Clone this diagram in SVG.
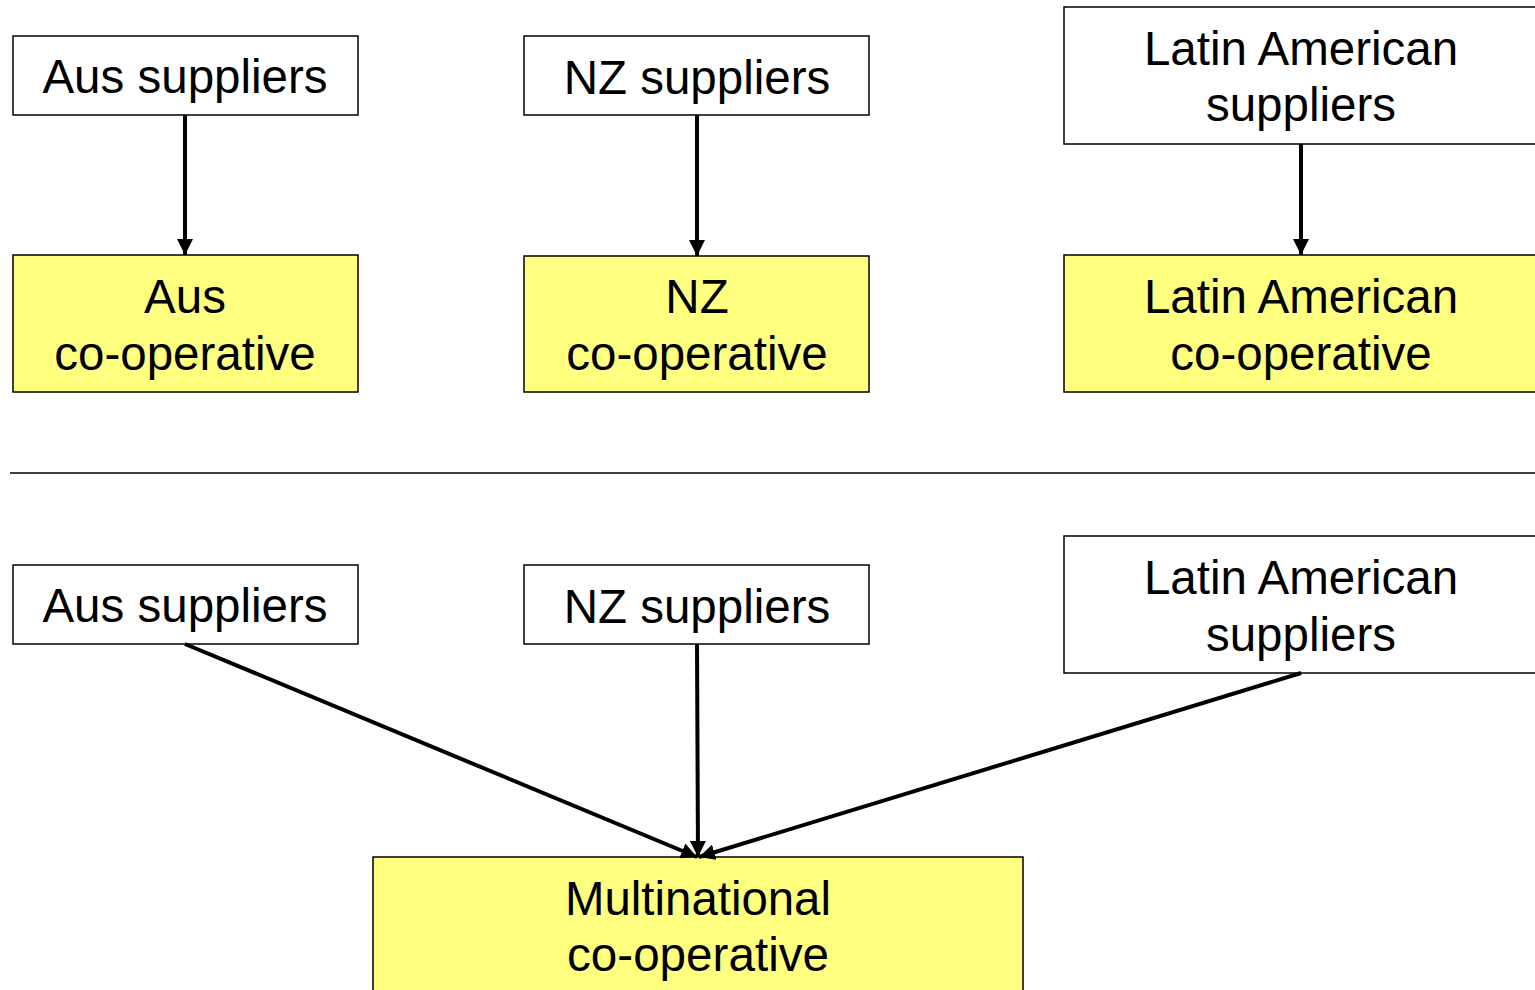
<svg xmlns="http://www.w3.org/2000/svg" width="1535" height="990" viewBox="0 0 1535 990">
<style>
.box{fill:#fff;stroke:#000;stroke-width:1.5}
.coop{fill:#ffff80;stroke:#000;stroke-width:1.5}
.t{font-family:"Liberation Sans",Arial,sans-serif;font-size:47.5px;fill:#000;text-anchor:middle}
.c{stroke:#000;stroke-width:4;fill:none}
</style>
<defs>
<marker id="ah" markerWidth="4" markerHeight="4" refX="4" refY="2" orient="auto" markerUnits="strokeWidth">
<path d="M0,0 L4,2 L0,4 z" fill="#000"/>
</marker>
</defs>
<rect width="1535" height="990" fill="#fff"/>
<g id="aus-sup-1"><rect class="box" x="13" y="36" width="345" height="79"/><text class="t" x="185" y="93">Aus suppliers</text></g>
<g id="nz-sup-1"><rect class="box" x="524" y="36" width="345" height="79"/><text class="t" x="697" y="94">NZ suppliers</text></g>
<g id="lat-sup-1"><rect class="box" x="1064" y="7" width="480" height="137"/><text class="t" x="1301" y="65">Latin American</text><text class="t" x="1301" y="121">suppliers</text></g>
<g id="aus-coop"><rect class="coop" x="13" y="255" width="345" height="137"/><text class="t" x="185" y="313">Aus</text><text class="t" x="185" y="370">co-operative</text></g>
<g id="nz-coop"><rect class="coop" x="524" y="256" width="345" height="136"/><text class="t" x="697" y="313">NZ</text><text class="t" x="697" y="370">co-operative</text></g>
<g id="lat-coop"><rect class="coop" x="1064" y="255" width="480" height="137"/><text class="t" x="1301" y="313">Latin American</text><text class="t" x="1301" y="370">co-operative</text></g>
<g id="divider"><line x1="10" y1="473" x2="1535" y2="473" stroke="#000" stroke-width="1.5"/></g>
<g id="aus-sup-2"><rect class="box" x="13" y="565" width="345" height="79"/><text class="t" x="185" y="622">Aus suppliers</text></g>
<g id="nz-sup-2"><rect class="box" x="524" y="565" width="345" height="79"/><text class="t" x="697" y="623">NZ suppliers</text></g>
<g id="lat-sup-2"><rect class="box" x="1064" y="536" width="480" height="137"/><text class="t" x="1301" y="594">Latin American</text><text class="t" x="1301" y="651">suppliers</text></g>
<g id="multi-coop"><rect class="coop" x="373" y="857" width="650" height="140"/><text class="t" x="698" y="915" textLength="266" lengthAdjust="spacingAndGlyphs">Multinational</text><text class="t" x="698" y="971" textLength="262" lengthAdjust="spacingAndGlyphs">co-operative</text></g>
<g id="connectors">
<line class="c" x1="185" y1="115" x2="185" y2="255" marker-end="url(#ah)"/>
<line class="c" x1="697" y1="115" x2="697" y2="256" marker-end="url(#ah)"/>
<line class="c" x1="1301" y1="144" x2="1301" y2="255" marker-end="url(#ah)"/>
<line class="c" x1="185" y1="644" x2="697" y2="857" marker-end="url(#ah)"/>
<line class="c" x1="697" y1="644" x2="698" y2="857" marker-end="url(#ah)"/>
<line class="c" x1="1301" y1="673" x2="699" y2="857" marker-end="url(#ah)"/>
</g>
</svg>
